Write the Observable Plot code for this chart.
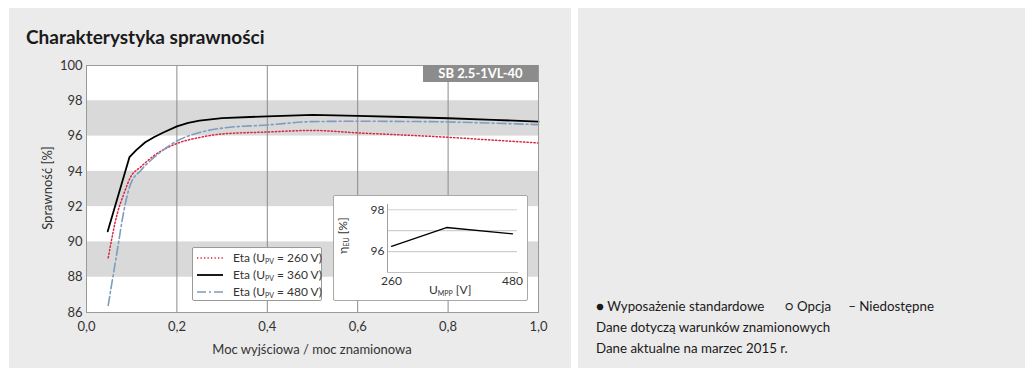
<!DOCTYPE html>
<html><head><meta charset="utf-8">
<script src="https://cdn.jsdelivr.net/npm/d3@7"></script>
<script src="https://cdn.jsdelivr.net/npm/@observablehq/plot@0.6"></script>
<style>
body{margin:0;background:#fff;font-family:Lato,"Open Sans",sans-serif;color:#1a1a1a;}
#wrap{position:relative;width:1036px;height:376px;overflow:hidden;}
.panel{position:absolute;top:8px;height:360px;background:#ebebeb;}
#title{position:absolute;left:26px;top:26px;font-size:19px;font-weight:700;line-height:22px;color:#1a1a1a;}
#chart,#inset{position:absolute;}
#chart{left:0;top:0;}
#badge{position:absolute;left:423px;top:65px;width:115px;height:17px;background:#8c8c8c;color:#fff;font-weight:700;font-size:13px;line-height:17px;text-align:center;}
#legend{position:absolute;left:192px;top:247px;width:128px;height:52px;background:#fff;border:1px solid #9a9a9a;border-radius:2px;font-size:12px;color:#333;}
#legend .row{position:absolute;left:0;height:16px;line-height:16px;white-space:nowrap;}
#legend svg{position:absolute;left:4px;top:3px;}
#legend span{position:absolute;left:40px;}
sub{font-size:7px;vertical-align:-2px;}
#insetbox{position:absolute;left:333px;top:195px;width:193px;height:104px;background:#fff;border:1px solid #a8a8a8;border-radius:2px;}
.ilab{position:absolute;font-size:12px;color:#333;white-space:nowrap;}
.alab{position:absolute;font-size:13px;color:#333;white-space:nowrap;}
#notes{position:absolute;left:596px;top:296px;font-size:13.3px;line-height:21px;color:#1a1a1a;}
</style></head><body>
<div id="wrap">
 <div class="panel" style="left:9px;width:562px"></div>
 <div class="panel" style="left:578px;width:447px"></div>
 <div id="title">Charakterystyka sprawności</div>
 <div id="chart"></div>
 <div id="badge">SB 2.5-1VL-40</div>
 <div id="legend"></div>
 <div id="insetbox"></div>
 <div id="inset"></div>
 <div class="alab" id="xlab" style="left:212px;top:341px;width:200px;text-align:center;"></div>
 <div class="alab" id="ylab" style="left:-3px;top:180px;width:100px;text-align:center;transform:rotate(-90deg);transform-origin:center;"></div>
 <div class="ilab" style="left:429px;top:282px">U<sub>MPP</sub> [V]</div>
 <div class="ilab" style="left:324px;top:228px;transform:rotate(-90deg);transform-origin:center;">η<sub>EU</sub> [%]</div>
 <div id="notes">
  <div>●&nbsp;Wyposażenie standardowe&nbsp;&nbsp;&nbsp;&nbsp;&nbsp; ○ Opcja&nbsp;&nbsp;&nbsp;&nbsp; – Niedostępne</div>
  <div>Dane dotyczą warunków znamionowych</div>
  <div>Dane aktualne na marzec 2015 r.</div>
 </div>
</div>
<script>
// Main chart data (output power ratio vs efficiency %)
const x260 = [0.048,0.068,0.083,0.097,0.12,0.15,0.2,0.25,0.3,0.4,0.5,0.6,0.7,0.8,0.9,1.0];
const eta260 = [89.1,91.6,92.75,93.65,94.25,94.9,95.58,95.92,96.12,96.23,96.32,96.18,96.06,95.93,95.77,95.61];
const x360 = [0.047,0.095,0.11,0.13,0.15,0.17,0.2,0.225,0.25,0.3,0.4,0.5,0.6,0.7,0.8,0.9,1.0];
const eta360 = [90.6,94.8,95.2,95.65,95.95,96.2,96.55,96.75,96.88,97.02,97.12,97.2,97.15,97.08,97.01,96.92,96.82];
const x480 = [0.048,0.068,0.083,0.097,0.12,0.15,0.2,0.25,0.3,0.4,0.5,0.6,0.7,0.8,0.9,1.0];
const eta480 = [86.4,89.5,91.8,93.25,94.05,94.8,95.72,96.2,96.45,96.63,96.82,96.84,96.83,96.8,96.73,96.65];
const seriesNames = ["Eta (U_PV = 260 V)","Eta (U_PV = 360 V)","Eta (U_PV = 480 V)"];
const xLabel = "Moc wyjściowa / moc znamionowa";
const yLabel = "Sprawność [%]";
const xTicks = [0,0.2,0.4,0.6,0.8,1.0];
const yTicks = [86,88,90,92,94,96,98,100];
const bandLo = [96,92,88];
const bandHi = [98,94,90];
const gridX = [0.2,0.4,0.6,0.8];
// Inset data (European efficiency vs MPP voltage)
const uMpp = [260,360,480];
const etaEU = [96.25,97.15,96.85];
const insetXTicks = [260,480];
const insetYTicks = [96,98];
const insetGrid = [96,97,98];

document.getElementById("xlab").textContent = xLabel;
document.getElementById("ylab").textContent = yLabel;

const fmt = d => d.toFixed(1).replace(".", ",");
const rows = (xs, ys) => xs.map((x, i) => ({x, y: ys[i]}));
const bands = bandLo.map((lo, i) => ({lo, hi: bandHi[i]}));

const styles = [
  {stroke:"#d9263e", strokeWidth:1.5, strokeDasharray:"1.3,2.2"},
  {stroke:"#000000", strokeWidth:1.8},
  {stroke:"#7d9cbf", strokeWidth:1.6, strokeDasharray:"9,3,2,3"}
];

const chart = Plot.plot({
  width:570, height:368,
  marginLeft:86, marginRight:32, marginTop:65, marginBottom:56,
  style:{background:"transparent", fontFamily:"Lato, sans-serif", fontSize:"13px", color:"#333", overflow:"visible"},
  x:{domain:[0,1], ticks:xTicks, tickFormat:fmt, tickSize:0, tickPadding:9, label:null},
  y:{domain:[86,100], ticks:yTicks, tickFormat:d => String(d), tickSize:0, tickPadding:4, label:null},
  marks:[
    Plot.frame({fill:"white", stroke:null}),
    Plot.rect(bands, {y1:"lo", y2:"hi", fill:"#d9d9d9"}),
    Plot.ruleX(gridX, {stroke:"#8a8a8a", strokeWidth:1}),
    Plot.line(rows(x260, eta260), {x:"x", y:"y", curve:"monotone-x", ...styles[0]}),
    Plot.line(rows(x480, eta480), {x:"x", y:"y", curve:"monotone-x", ...styles[2]}),
    Plot.line(rows(x360, eta360), {x:"x", y:"y", ...styles[1]}),
    Plot.frame({stroke:"#9a9a9a"})
  ]
});
document.getElementById("chart").appendChild(chart);

// Legend
const legend = document.getElementById("legend");
[0,1,2].forEach((k, i) => {
  const row = document.createElement("div");
  row.className = "row";
  row.style.top = (2 + i*17) + "px";
  const s = styles[k];
  const name = seriesNames[k].replace("U_PV", "U<sub>PV</sub>");
  row.innerHTML = `<svg width="28" height="10"><line x1="0" x2="26" y1="5" y2="5" stroke="${s.stroke}" stroke-width="${s.strokeWidth}" ${s.strokeDasharray ? `stroke-dasharray="${s.strokeDasharray}"` : ""}/></svg><span>${name}</span>`;
  legend.appendChild(row);
});

// Inset
const inset = Plot.plot({
  width:194, height:105,
  marginLeft:54, marginRight:10, marginTop:9, marginBottom:28,
  style:{background:"transparent", fontFamily:"Lato, sans-serif", fontSize:"12px", color:"#333"},
  x:{domain:[252.7,489], ticks:insetXTicks, tickFormat:d => String(d), tickSize:0, tickPadding:4, label:null},
  y:{domain:[95,98.25], ticks:insetYTicks, tickFormat:d => String(d), tickSize:0, tickPadding:3, label:null},
  marks:[
    Plot.ruleY(insetGrid, {stroke:"#cfcfcf", strokeWidth:1.2}),
    Plot.frame({anchor:"left", stroke:"#a0a0a0"}),
    Plot.frame({anchor:"bottom", stroke:"#c0c0c0"}),
    Plot.line(rows(uMpp, etaEU), {x:"x", y:"y", stroke:"#000", strokeWidth:1.3})
  ]
});
const ins = document.getElementById("inset");
ins.style.left = "333px"; ins.style.top = "195px";
ins.appendChild(inset);
</script>
</body></html>
